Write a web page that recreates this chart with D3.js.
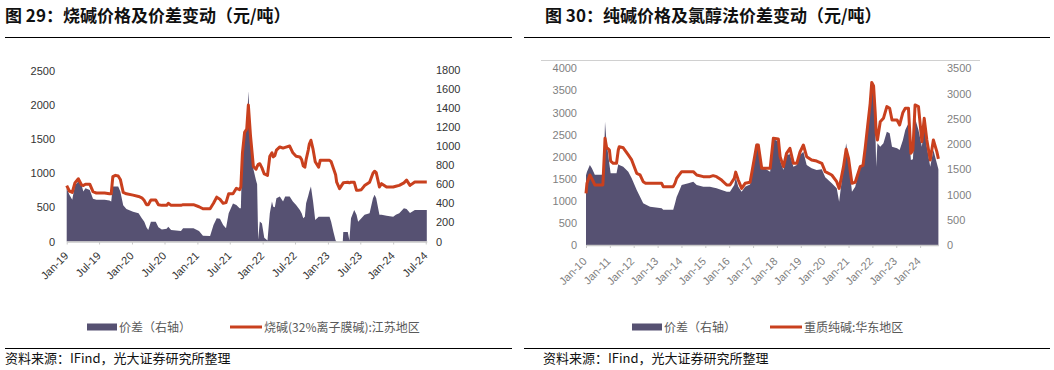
<!DOCTYPE html>
<html>
<head>
<meta charset="utf-8">
<script src="https://cdn.jsdelivr.net/npm/d3@7"></script>
<style>
  body { margin: 0; background: #fff; }
  svg text { font-family: "Liberation Sans", Arial, sans-serif; }
  svg .cn { font-family: "Noto Sans CJK SC", "Noto Sans", sans-serif; }
</style>
</head>
<body>
<svg id="chart" width="1054" height="370"></svg>
<script>
// ---- figure 29: caustic soda ----
const causticDates = ["2019-01-01","2019-01-16","2019-02-01","2019-02-16","2019-03-07","2019-03-25","2019-04-04","2019-04-16","2019-05-10","2019-05-28","2019-06-16","2019-08-01","2019-08-28","2019-09-07","2019-09-16","2019-10-01","2019-10-16","2019-10-28","2019-11-13","2019-12-01","2020-01-07","2020-02-07","2020-02-25","2020-03-10","2020-03-22","2020-04-01","2020-04-16","2020-05-13","2020-05-28","2020-06-16","2020-07-13","2020-07-22","2020-08-07","2020-10-01","2020-10-13","2020-12-10","2021-01-10","2021-02-01","2021-03-13","2021-04-01","2021-04-19","2021-05-07","2021-05-25","2021-06-10","2021-06-25","2021-07-19","2021-08-07","2021-08-25","2021-09-01","2021-09-10","2021-09-22","2021-10-04","2021-10-13","2021-10-25","2021-11-10","2021-11-25","2021-12-01","2021-12-07","2021-12-16","2021-12-28","2022-01-10","2022-01-28","2022-02-10","2022-02-22","2022-03-01","2022-03-10","2022-03-19","2022-04-07","2022-04-25","2022-05-07","2022-06-01","2022-06-19","2022-07-07","2022-07-28","2022-08-07","2022-08-16","2022-08-25","2022-09-01","2022-09-13","2022-09-19","2022-09-28","2022-10-10","2022-10-22","2022-11-10","2022-11-19","2023-01-10","2023-01-19","2023-02-01","2023-02-13","2023-02-19","2023-03-07","2023-03-25","2023-03-28","2023-04-22","2023-05-01","2023-05-10","2023-05-28","2023-06-10","2023-06-19","2023-07-07","2023-07-25","2023-08-22","2023-09-10","2023-09-19","2023-09-28","2023-10-16","2023-10-28","2023-11-25","2024-01-01","2024-01-16","2024-02-04","2024-03-01","2024-03-16","2024-04-04","2024-05-01","2024-06-01","2024-07-07"];
const causticPrice = [820,740,720,860,920,830,820,840,840,730,710,710,700,700,950,970,960,910,720,700,680,660,640,600,540,540,610,610,540,530,530,560,530,530,540,540,510,480,480,560,650,620,560,570,700,700,780,760,800,1300,1600,1650,2000,1550,1100,1060,1100,1130,1140,1080,990,970,1250,1300,1240,1260,1340,1386,1370,1380,1400,1300,1250,1240,1200,1110,1090,1200,1340,1430,1485,1350,1170,1090,1190,1190,1170,1070,980,870,775,848,860,870,860,870,870,750,750,760,820,870,1000,1030,1010,800,848,800,800,810,823,860,900,823,872,872,872];
const causticSpread = [560,490,437,590,630,595,524,560,540,450,437,437,430,420,577,577,577,524,380,340,313,296,244,208,150,121,208,208,150,125,135,156,120,110,138,138,110,60,58,173,244,240,173,138,296,400,384,349,349,1000,1156,1160,1577,1156,760,640,600,20,210,190,40,10,296,420,366,360,455,472,420,472,472,420,384,330,296,244,260,402,480,524,577,420,226,261,261,261,208,100,10,0,0,0,100,100,10,244,331,280,208,244,280,296,455,490,455,280,280,270,261,280,296,349,340,300,331,331,331];
const causticTicks = ["Jan-19","Jul-19","Jan-20","Jul-20","Jan-21","Jul-21","Jan-22","Jul-22","Jan-23","Jul-23","Jan-24","Jul-24"];
const causticLeftTicks = [0,500,1000,1500,2000,2500];
const causticRightTicks = [0,200,400,600,800,1000,1200,1400,1600,1800];

// ---- figure 30: soda ash ----
const sodaDates = ["2010-01-01","2010-01-16","2010-03-01","2010-04-01","2010-05-16","2010-09-16","2010-10-10","2010-10-19","2010-11-13","2010-11-28","2010-12-25","2011-01-13","2011-02-22","2011-04-13","2011-05-10","2011-05-25","2011-07-25","2011-10-10","2011-12-01","2012-02-16","2012-04-07","2012-05-25","2012-07-01","2012-09-07","2013-03-04","2013-03-28","2013-08-28","2013-09-25","2013-10-19","2013-11-13","2014-01-04","2014-04-16","2014-07-01","2014-08-22","2014-12-01","2015-03-13","2015-05-01","2015-06-22","2015-09-07","2015-11-25","2016-01-13","2016-03-19","2016-04-10","2016-05-19","2016-07-10","2016-09-01","2016-11-16","2017-01-07","2017-02-25","2017-03-22","2017-05-13","2017-09-19","2017-11-07","2018-01-22","2018-02-19","2018-04-10","2018-05-28","2018-07-19","2018-09-10","2018-11-01","2018-12-19","2019-02-10","2019-04-01","2019-06-16","2019-09-01","2019-11-19","2020-01-10","2020-04-19","2020-07-04","2020-08-10","2020-10-16","2020-11-25","2021-01-01","2021-02-22","2021-04-13","2021-06-28","2021-08-10","2021-09-13","2021-10-19","2021-11-28","2021-12-22","2022-01-19","2022-02-13","2022-02-28","2022-03-19","2022-05-01","2022-06-19","2022-08-10","2022-09-22","2022-10-28","2023-01-13","2023-02-22","2023-04-13","2023-05-19","2023-07-07","2023-08-13","2023-09-13","2023-10-16","2023-12-07","2024-01-28","2024-03-04","2024-04-13","2024-06-04","2024-07-22","2024-09-13","2024-10-07"];
const sodaPrice = [1170,1400,1585,1500,1360,1360,2100,2415,2200,2190,2150,1900,1850,1850,2150,2226,2200,2038,1925,1623,1590,1434,1400,1396,1396,1321,1321,1400,1509,1560,1660,1660,1660,1585,1547,1547,1570,1547,1470,1358,1358,1509,1650,1470,1283,1396,1420,1849,2264,2264,1736,1736,2415,2400,2000,1774,2075,2190,1849,1849,2100,2264,2000,1925,1900,1850,1660,1585,1434,1280,1774,2170,1962,1396,1420,1774,1800,2200,2679,3207,3680,3600,3000,2528,2377,2792,2868,3132,3094,2830,2830,2717,3000,3094,3094,2075,2150,3170,3132,2339,2868,2377,1925,2377,2113,1950];
const sodaSpread = [1380,1450,1585,1520,1390,1390,2000,2440,2000,1880,1600,1420,1420,1420,1600,1585,1552,1453,1321,1090,958,825,800,760,726,700,700,825,950,1024,1189,1222,1255,1189,1156,1156,1140,1122,1090,1057,1057,1189,1340,1156,1057,1156,1200,1650,2010,2000,1552,1453,2100,2050,1670,1486,1783,1800,1550,1585,1783,1849,1585,1520,1486,1500,1340,1222,1122,858,1552,2014,1700,1057,1155,1552,1580,1882,2344,2939,3230,3100,2400,1552,2014,1948,2014,2245,2212,1948,1915,1882,2080,2278,2410,1684,1700,2510,2278,1948,2410,1948,1552,1882,1618,1500];
const sodaTicks = ["Jan-10","Jan-11","Jan-12","Jan-13","Jan-14","Jan-15","Jan-16","Jan-17","Jan-18","Jan-19","Jan-20","Jan-21","Jan-22","Jan-23","Jan-24"];
const sodaLeftTicks = [0,500,1000,1500,2000,2500,3000,3500,4000];
const sodaRightTicks = [0,500,1000,1500,2000,2500,3000,3500];

const AREA = "#565172";
const RED = "#c9401e";
const parseDate = d3.timeParse("%Y-%m-%d");
const parseTick = d3.timeParse("%b-%y");
const svg = d3.select("#chart");

function panel(o) {
  const g = svg.append("g");

  // title + rules
  g.append("text").attr("class", "cn")
    .attr("x", o.titleX).attr("y", 22)
    .attr("font-size", 17).attr("font-weight", "bold").attr("fill", "#111")
    .text(o.title);
  g.append("line").attr("x1", o.ruleX0).attr("x2", o.ruleX1)
    .attr("y1", 37.5).attr("y2", 37.5).attr("stroke", "#000").attr("stroke-width", 1.2);
  g.append("line").attr("x1", o.ruleX0).attr("x2", o.ruleX1)
    .attr("y1", 348.5).attr("y2", 348.5).attr("stroke", "#000").attr("stroke-width", 1.2);
  g.append("text").attr("class", "cn")
    .attr("x", o.sourceX).attr("y", 363)
    .attr("font-size", 13).attr("fill", "#111")
    .text("资料来源：IFind，光大证券研究所整理");

  if (o.frameTop) {
    g.append("line").attr("x1", o.frameTop[0]).attr("x2", o.frameTop[1])
      .attr("y1", o.frameTop[2]).attr("y2", o.frameTop[2])
      .attr("stroke", "#d0d0d0");
  }

  const x = d3.scaleTime()
    .domain(o.xDomain.map(parseDate))
    .range([o.x0, o.x1]);
  const yL = d3.scaleLinear().domain([0, d3.max(o.leftTicks)]).range([o.yBase, o.yTop]);
  const yR = d3.scaleLinear().domain([0, d3.max(o.rightTicks)]).range([o.yBase, o.yTopR]);

  const rows = o.dates.map((d, i) => ({ date: parseDate(d), price: o.price[i], spread: o.spread[i] }));

  g.append("path").datum(rows)
    .attr("fill", AREA)
    .attr("d", d3.area().x(d => x(d.date)).y0(yR(0)).y1(d => yR(d.spread)));

  // x axis
  const xAxis = g.append("g")
    .attr("transform", `translate(0,${o.yBase})`)
    .call(d3.axisBottom(x)
      .tickValues(o.ticks.map(parseTick))
      .tickFormat(d3.timeFormat("%b-%y"))
      .tickSizeInner(3).tickSizeOuter(0));
  xAxis.select(".domain").attr("stroke", "#c8c8c8").attr("stroke-width", 1.5);
  xAxis.selectAll(".tick line").attr("stroke", "#c8c8c8");
  xAxis.selectAll(".tick text")
    .attr("font-size", 11).attr("fill", o.labelColor)
    .attr("x", 0).attr("y", 0).attr("dy", 0)
    .attr("text-anchor", "end")
    .attr("transform", `translate(${o.labelDx},${o.labelDy}) rotate(-45)`);

  // y axes (labels only)
  const yLeft = g.append("g")
    .attr("transform", `translate(${o.x0},0)`)
    .call(d3.axisLeft(yL).tickValues(o.leftTicks).tickFormat(d3.format("d"))
      .tickSize(0).tickPadding(o.x0 - o.leftLabelX));
  yLeft.select(".domain").remove();
  yLeft.selectAll("text").attr("font-size", 11).attr("fill", o.labelColor);

  const yRight = g.append("g")
    .attr("transform", `translate(${o.x1},0)`)
    .call(d3.axisRight(yR).tickValues(o.rightTicks).tickFormat(d3.format("d"))
      .tickSize(0).tickPadding(o.rightLabelX - o.x1));
  yRight.select(".domain").remove();
  yRight.selectAll("text").attr("font-size", 11).attr("fill", o.labelColor);

  g.append("path").datum(rows)
    .attr("fill", "none").attr("stroke", RED).attr("stroke-width", 3)
    .attr("stroke-linejoin", "round")
    .attr("d", d3.line().x(d => x(d.date)).y(d => yL(d.price)));

  // legend
  const lg = g.append("g").attr("transform", `translate(0,327)`);
  lg.append("rect").attr("x", o.legend[0]).attr("y", -3.5).attr("width", 30).attr("height", 7).attr("fill", AREA);
  lg.append("text").attr("class", "cn").attr("x", o.legend[0] + 32).attr("y", 4.5)
    .attr("font-size", 12).attr("fill", "#595959").text("价差（右轴）");
  lg.append("line").attr("x1", o.legend[1]).attr("x2", o.legend[1] + 32)
    .attr("y1", 0).attr("y2", 0).attr("stroke", RED).attr("stroke-width", 3);
  lg.append("text").attr("class", "cn").attr("x", o.legend[1] + 34).attr("y", 4.5)
    .attr("font-size", 12).attr("fill", "#595959").text(o.lineName);
}

panel({
  title: "图 29：烧碱价格及价差变动（元/吨）",
  titleX: 5, ruleX0: 5, ruleX1: 512, sourceX: 5,
  dates: causticDates, price: causticPrice, spread: causticSpread,
  ticks: causticTicks, leftTicks: causticLeftTicks, rightTicks: causticRightTicks,
  xDomain: ["2019-01-01", "2024-07-07"], x0: 66.7, x1: 426.8,
  yBase: 241.5, yTop: 71, yTopR: 70,
  leftLabelX: 55, rightLabelX: 436,
  labelColor: "#333", labelDx: 2, labelDy: 15,
  legend: [87, 230], lineName: "烧碱(32%离子膜碱):江苏地区"
});

panel({
  title: "图 30：纯碱价格及氯醇法价差变动（元/吨）",
  titleX: 545, ruleX0: 524, ruleX1: 1050, sourceX: 543,
  dates: sodaDates, price: sodaPrice, spread: sodaSpread,
  ticks: sodaTicks, leftTicks: sodaLeftTicks, rightTicks: sodaRightTicks,
  xDomain: ["2010-01-01", "2024-10-07"], x0: 586, x1: 938.4,
  yBase: 245, yTop: 68.3, yTopR: 68.3,
  leftLabelX: 577, rightLabelX: 947,
  labelColor: "#7f7f7f", labelDx: 1, labelDy: 17,
  frameTop: [541, 980, 60.5],
  legend: [632, 770], lineName: "重质纯碱:华东地区"
});
</script>
</body>
</html>
